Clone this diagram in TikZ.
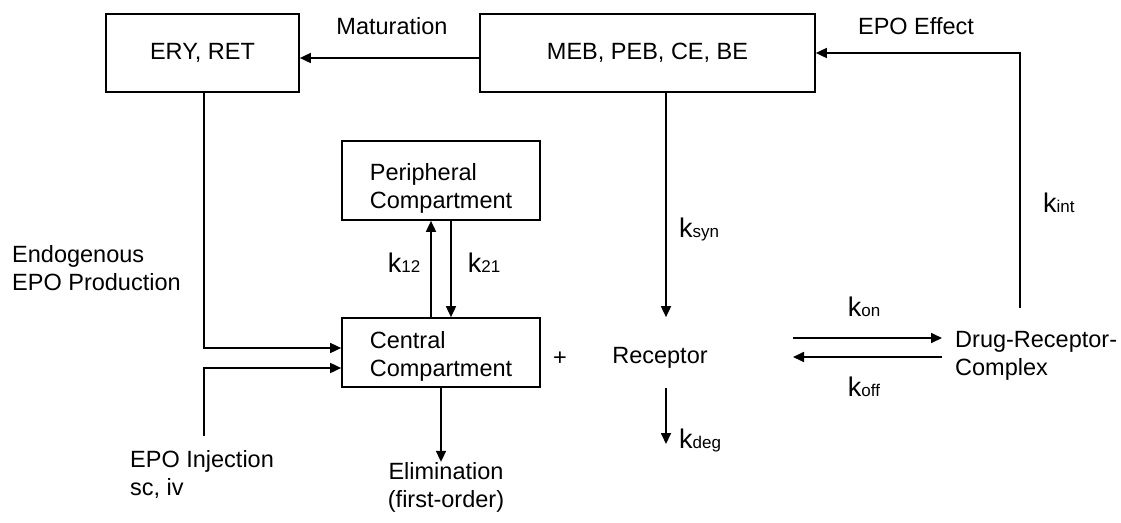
\documentclass[tikz,border=0pt]{standalone}
\usepackage{fontspec}
\setmainfont{Liberation Sans}
\usetikzlibrary{arrows.meta,positioning}

\newcommand{\rate}[1]{{\fontsize{27}{27}\selectfont k}{\fontsize{17}{17}\selectfont #1}}

\begin{document}
\begin{tikzpicture}[x=1pt,y=-1pt,
  txt/.style={font=\fontsize{23.5}{28}\selectfont,inner sep=0pt,align=left},
  box/.style={draw,line width=1.7pt},
  lab/.style={txt},
  e/.style={-{Triangle[length=11pt,width=10pt]},line width=1.7pt}]
\useasboundingbox (0,0) rectangle (1121,522);

% ---- top row ----
\node[box,txt,minimum width=193pt,minimum height=78pt] (ery) at (202.5,53) {ERY, RET};
\node[box,txt,minimum width=335pt,minimum height=78pt] (meb) at (647.5,53) {MEB, PEB, CE, BE};
\node[lab] (mat) at (392,26) {Maturation};
\node[lab] (effect) at (916,26) {EPO Effect};

% ---- compartments ----
\node[box,minimum width=198pt,minimum height=79pt] (peri) at (441,180.5) {};
\node[lab] (peritxt) at (441,188) {Peripheral\\Compartment};
\node[box,minimum width=198pt,minimum height=69pt] (cent) at (441,352.5) {};
\node[lab] (centtxt) at (441,356) {Central\\Compartment};
\node[lab] (k12) at (404,263) {\rate{12}};
\node[lab] (k21) at (484,263) {\rate{21}};

% ---- inputs / outputs ----
\node[lab,anchor=west] (endo) at (12,268) {Endogenous\\EPO Production};
\node[lab,anchor=west] (inj) at (130,474) {EPO Injection\\sc, iv};
\node[lab,align=center] (elim) at (446,487) {Elimination\\(first-order)};
\coordinate (injfoot) at (204,436);

% ---- receptor binding ----
\node[lab] (plus) at (560,359) {+};
\node[lab,minimum height=69pt] (rec) at (660,358) {Receptor};
\node[lab,anchor=west] (drc) at (955,356) {Drug-Receptor-\\Complex};
\node[lab,anchor=west] (ksyn) at (679,229) {\rate{syn}};
\node[lab,anchor=west] (kdeg) at (679,440) {\rate{deg}};
\node[lab] (kon) at (864,307) {\rate{on}};
\node[lab] (koff) at (864,387) {\rate{off}};
\node[lab,anchor=west] (kint) at (1043,203) {\rate{int}};
\coordinate (kdegend) at (666,444);
\coordinate (bindL) at (793,338);
\coordinate (bindR) at (942,338);
\coordinate (kintfoot) at (1020,308);

\draw[e] ([yshift=-5pt]meb.west) -- ([yshift=-5pt]ery.east);
\draw[e] (kintfoot) |- (meb.east);
\draw[e] (meb.south -| kdegend) -- (cent.north -| kdegend);
\draw[e] (cent.south -| kdegend) -- (kdegend);
\draw[e] (bindL) -- (bindR);
\draw[e] ([yshift=-19pt]bindR) -- ([yshift=-19pt]bindL);
\draw[e] ([xshift=-10pt]cent.north) -- ([xshift=-10pt]peri.south);
\draw[e] ([xshift=10pt]peri.south) -- ([xshift=10pt]cent.north);
\draw[e] ([xshift=1.5pt]ery.south) |- ([yshift=4.5pt]cent.west);
\draw[e] (injfoot) |- ([yshift=-15.5pt]cent.west);
\draw[e] (cent.south) -- (cent.south |- elim.north);
\end{tikzpicture}
\end{document}
